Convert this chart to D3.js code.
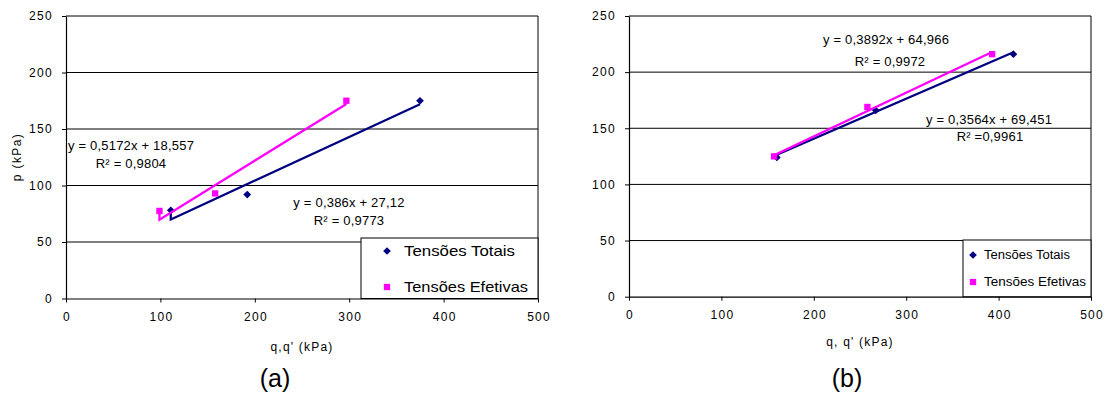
<!DOCTYPE html>
<html><head><meta charset="utf-8">
<script src="https://cdn.jsdelivr.net/npm/d3@7"></script>
<style>
body{margin:0;background:#fff;}
svg{display:block;font-family:"Liberation Sans",Arial,sans-serif;}
</style></head>
<body><svg id="c" width="1108" height="394"></svg>
<script>
// ---- data ----
const xTicks = [0, 100, 200, 300, 400, 500];
const yTicks = [0, 50, 100, 150, 200, 250];
const seriesNames = ["Tensões Totais", "Tensões Efetivas"];

const aTotaisQ = [111, 192, 375];
const aTotaisP = [78, 92, 175];
const aEfetivasQ = [99, 158, 297];
const aEfetivasP = [77.5, 93, 175];
const aTotaisTrend = [0.386, 27.12];
const aEfetivasTrend = [0.5172, 18.557];
const aTotaisEq = ["y = 0,386x + 27,12", "R² = 0,9773"];
const aEfetivasEq = ["y = 0,5172x + 18,557", "R² = 0,9804"];

const bTotaisQ = [160, 267, 416];
const bTotaisP = [124, 166, 216];
const bEfetivasQ = [157, 258, 393];
const bEfetivasP = [125, 169, 216];
const bTotaisTrend = [0.3564, 69.451];
const bEfetivasTrend = [0.3892, 64.966];
const bTotaisEq = ["y = 0,3564x + 69,451", "R² =0,9961"];
const bEfetivasEq = ["y = 0,3892x + 64,966", "R² = 0,9972"];

const colors = ["#000080", "#FF00FF"];

const svg = d3.select("#c");

function marker(sel, shape, size) {
  if (shape === "diamond") {
    sel.attr("d", d3.symbol().type(d3.symbolSquare).size(size)())
       .attr("transform", function() { return d3.select(this).attr("transform") + " rotate(45)"; });
  } else {
    sel.attr("d", d3.symbol().type(d3.symbolSquare).size(size)());
  }
}

function panel(cfg) {
  const x = d3.scaleLinear().domain([0, 500]).range([cfg.x0, cfg.x1]);
  const y = d3.scaleLinear().domain([0, 250]).range([cfg.y0, cfg.y1]);
  const g = svg.append("g");

  g.selectAll("line.grid").data(yTicks.filter(d => d > 0)).join("line")
    .attr("x1", cfg.x0).attr("x2", cfg.x1)
    .attr("y1", d => y(d)).attr("y2", d => y(d))
    .attr("stroke", "#000").attr("stroke-width", 1);
  g.append("line").attr("x1", cfg.x1).attr("x2", cfg.x1).attr("y1", cfg.y1).attr("y2", cfg.y0)
    .attr("stroke", "#000");

  const xa = g.append("g").attr("transform", `translate(0,${cfg.y0})`)
    .call(d3.axisBottom(x).tickValues(xTicks).tickSize(4).tickPadding(10).tickSizeOuter(0));
  const ya = g.append("g").attr("transform", `translate(${cfg.x0},0)`)
    .call(d3.axisLeft(y).tickValues(yTicks).tickSize(4).tickPadding(9).tickSizeOuter(0));
  [xa, ya].forEach(a => {
    a.select(".domain").attr("stroke", "#000").attr("stroke-width", 1.2);
    a.selectAll(".tick line").attr("stroke", "#000");
    a.selectAll("text").attr("font-size", 12).attr("fill", "#000")
      .attr("font-family", "Liberation Sans, Arial, sans-serif")
      .style("letter-spacing", "1.3px");
  });
  xa.selectAll("text").attr("dx", "0.6px");

  g.append("rect").attr("x", cfg.leg.x).attr("y", cfg.leg.y)
    .attr("width", cfg.x1 - cfg.leg.x).attr("height", cfg.y0 - cfg.leg.y)
    .attr("fill", "#fff").attr("stroke", "#000");

  const series = [
    {q: cfg.tq, p: cfg.tp, tr: cfg.tt, c: colors[0], shape: "diamond", ms: 30, eq: cfg.teq, eqPos: cfg.teqPos},
    {q: cfg.eq, p: cfg.ep, tr: cfg.et, c: colors[1], shape: "square", ms: 40, eq: cfg.eeq, eqPos: cfg.eeqPos}
  ];
  series.forEach((s, i) => {
    const xs = d3.extent(s.q);
    const pts = [[x(s.q[0]), y(s.p[0])]].concat(xs.map(d => [x(d), y(s.tr[0] * d + s.tr[1])]));
    g.append("path").attr("d", d3.line()(pts)).attr("stroke", s.c).attr("stroke-width", 2.3)
      .attr("stroke-linejoin", "miter").attr("fill", "none");
    g.selectAll(null).data(s.q).join("path")
      .attr("transform", (d, j) => `translate(${x(d)},${y(s.p[j])})`)
      .attr("fill", s.c)
      .call(marker, s.shape, s.ms);
    const t = g.append("text").attr("text-anchor", "middle").attr("font-size", 13)
      .attr("fill", "#000").style("letter-spacing", "0.2px");
    s.eq.forEach((line, k) => {
      t.append("tspan").attr("x", s.eqPos[k][0]).attr("y", s.eqPos[k][1]).text(line);
    });
    const ly = cfg.leg.items[i];
    g.append("path").attr("transform", `translate(${cfg.leg.mx},${ly})`)
      .attr("fill", s.c).call(marker, s.shape, s.ms);
    g.append("text").attr("x", cfg.leg.tx).attr("y", ly).attr("dy", "0.35em")
      .attr("font-size", cfg.leg.fs).attr("fill", "#000")
      .attr("textLength", cfg.leg.tl[i]).attr("lengthAdjust", "spacingAndGlyphs")
      .text(seriesNames[i]);
  });

  g.append("text").attr("x", cfg.xt[0]).attr("y", cfg.xt[1]).attr("text-anchor", "middle")
    .attr("font-size", 12).style("letter-spacing", "1.2px").text(cfg.xlabel);
  if (cfg.ylabel) {
    g.append("text").attr("transform", `translate(${cfg.yt[0]},${cfg.yt[1]}) rotate(-90)`)
      .attr("text-anchor", "middle").attr("font-size", 12).style("letter-spacing", "1.4px").text(cfg.ylabel);
  }
  g.append("text").attr("x", cfg.cap[0]).attr("y", cfg.cap[1]).attr("text-anchor", "middle")
    .attr("font-size", 25).text(cfg.caption);
}

panel({
  x0: 66, x1: 538, y0: 298.5, y1: 16,
  tq: aTotaisQ, tp: aTotaisP, tt: aTotaisTrend, teq: aTotaisEq, teqPos: [[349, 207], [349, 225]],
  eq: aEfetivasQ, ep: aEfetivasP, et: aEfetivasTrend, eeq: aEfetivasEq, eeqPos: [[131, 150], [131, 168]],
  leg: {x: 361, y: 238, items: [251, 287], mx: 387, tx: 404, fs: 15, tl: [111, 124]},
  xt: [302, 351], xlabel: "q,q' (kPa)", yt: [21, 157], ylabel: "p (kPa)",
  cap: [275, 387], caption: "(a)"
});

panel({
  x0: 629, x1: 1091, y0: 296.7, y1: 16,
  tq: bTotaisQ, tp: bTotaisP, tt: bTotaisTrend, teq: bTotaisEq, teqPos: [[989, 124], [990, 141]],
  eq: bEfetivasQ, ep: bEfetivasP, et: bEfetivasTrend, eeq: bEfetivasEq, eeqPos: [[886, 44], [890, 66]],
  leg: {x: 963, y: 240, items: [255, 282], mx: 973, tx: 984, fs: 12, tl: [86, 102]},
  xt: [860, 346], xlabel: "q, q' (kPa)", yt: null, ylabel: null,
  cap: [847, 387], caption: "(b)"
});
</script></body></html>
